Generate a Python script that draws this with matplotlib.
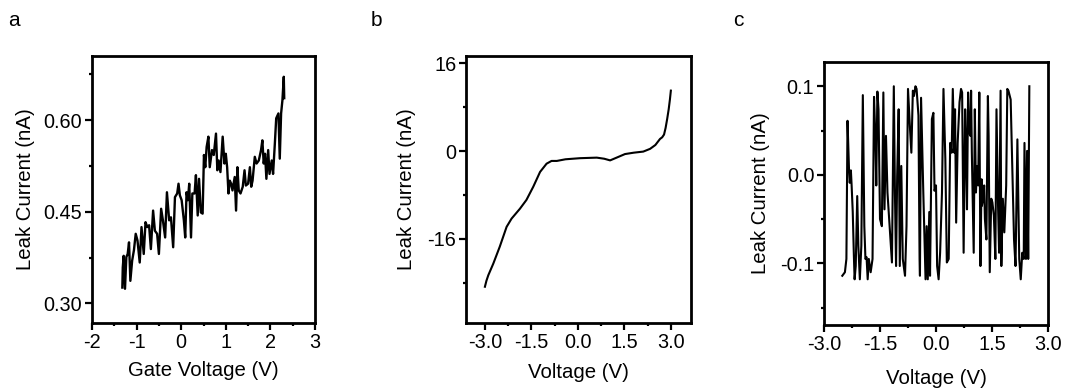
import numpy as np
import matplotlib
matplotlib.use("Agg")
import matplotlib.pyplot as plt
from matplotlib.ticker import MultipleLocator, FormatStrFormatter

plt.rcParams['font.family'] = ['Liberation Sans', 'DejaVu Sans']
plt.rcParams['axes.unicode_minus'] = False

# ---------------- Panel a: gate leak current ----------------
gate_v = [-1.32, -1.31, -1.29, -1.26, -1.23, -1.20, -1.17, -1.14, -1.10, -1.06,
          -1.02, -0.98, -0.93, -0.89, -0.84, -0.80, -0.76, -0.72, -0.68, -0.63,
          -0.59, -0.54, -0.50, -0.45, -0.41, -0.36, -0.32, -0.27, -0.23, -0.18,
          -0.14, -0.09, -0.06, -0.03, 0.01, 0.06, 0.09, 0.12, 0.15, 0.18,
          0.22, 0.25, 0.30, 0.33, 0.37, 0.40, 0.44, 0.48, 0.51, 0.54,
          0.57, 0.61, 0.64, 0.69, 0.73, 0.78, 0.81, 0.84, 0.88, 0.93,
          0.97, 1.00, 1.03, 1.06, 1.09, 1.12, 1.15, 1.20, 1.23, 1.26,
          1.29, 1.33, 1.38, 1.42, 1.45, 1.50, 1.54, 1.57, 1.60, 1.65,
          1.69, 1.74, 1.79, 1.82, 1.85, 1.88, 1.91, 1.95, 1.98, 2.03,
          2.06, 2.10, 2.13, 2.18, 2.21, 2.24, 2.27, 2.30, 2.31]
gate_i = [0.326, 0.359, 0.378, 0.324, 0.376, 0.381, 0.400, 0.337, 0.370, 0.387,
          0.414, 0.403, 0.367, 0.425, 0.381, 0.433, 0.425, 0.428, 0.389, 0.452,
          0.419, 0.414, 0.381, 0.455, 0.436, 0.408, 0.482, 0.436, 0.441, 0.392,
          0.474, 0.480, 0.496, 0.477, 0.469, 0.436, 0.408, 0.482, 0.469, 0.496,
          0.408, 0.480, 0.480, 0.510, 0.444, 0.504, 0.449, 0.447, 0.543, 0.523,
          0.556, 0.573, 0.523, 0.551, 0.543, 0.578, 0.518, 0.534, 0.515, 0.573,
          0.529, 0.545, 0.523, 0.480, 0.501, 0.496, 0.485, 0.507, 0.452, 0.523,
          0.485, 0.480, 0.491, 0.518, 0.493, 0.496, 0.523, 0.491, 0.501, 0.540,
          0.529, 0.534, 0.551, 0.567, 0.529, 0.545, 0.504, 0.551, 0.512, 0.534,
          0.512, 0.562, 0.603, 0.611, 0.537, 0.611, 0.633, 0.671, 0.636]

# ---------------- Panel b: I-V sweep ----------------
iv_v = [-3.00, -2.95, -2.89, -2.73, -2.52, -2.30, -2.14, -1.87, -1.66, -1.44,
        -1.22, -1.01, -0.85, -0.68, -0.40, 0.07, 0.61, 0.85, 1.04, 1.25,
        1.52, 1.80, 2.11, 2.33, 2.50, 2.65, 2.72, 2.78, 2.83, 2.88,
        2.93, 2.97, 3.00]
iv_i = [-24.7, -23.6, -22.6, -20.5, -17.4, -13.8, -12.3, -10.5, -8.9, -6.5,
        -3.8, -2.3, -1.8, -1.8, -1.5, -1.3, -1.2, -1.4, -1.7, -1.2,
        -0.55, -0.3, -0.1, 0.4, 1.1, 2.2, 2.5, 3.0, 4.2, 5.8,
        7.6, 9.4, 11.0]

# ---------------- Panel c: noise-level leak current ----------------
noise_v = [-2.51, -2.44, -2.40, -2.37, -2.33, -2.31, -2.28, -2.26, -2.23, -2.20,
           -2.18, -2.15, -2.11, -2.08, -2.04, -2.00, -1.96, -1.92, -1.89, -1.86,
           -1.83, -1.80, -1.75, -1.70, -1.66, -1.62, -1.60, -1.57, -1.54, -1.50,
           -1.45, -1.41, -1.38, -1.34, -1.30, -1.23, -1.18, -1.13, -1.10, -1.07,
           -1.04, -1.00, -0.97, -0.93, -0.89, -0.83, -0.79, -0.75, -0.70, -0.66,
           -0.62, -0.59, -0.55, -0.52, -0.47, -0.44, -0.43, -0.40, -0.34, -0.28,
           -0.25, -0.22, -0.18, -0.16, -0.11, -0.07, -0.04, -0.00, 0.03, 0.07,
           0.11, 0.16, 0.20, 0.25, 0.29, 0.34, 0.38, 0.42, 0.45, 0.49,
           0.51, 0.54, 0.58, 0.61, 0.63, 0.67, 0.70, 0.74, 0.78, 0.80,
           0.83, 0.86, 0.89, 0.92, 0.94, 0.96, 1.01, 1.04, 1.07, 1.10,
           1.13, 1.16, 1.19, 1.22, 1.23, 1.26, 1.29, 1.31, 1.35, 1.39,
           1.41, 1.44, 1.48, 1.51, 1.55, 1.59, 1.62, 1.66, 1.69, 1.73,
           1.75, 1.79, 1.83, 1.88, 1.91, 1.94, 2.00, 2.04, 2.09, 2.13,
           2.18, 2.23, 2.27, 2.31, 2.35, 2.37, 2.41, 2.44, 2.47, 2.50]
noise_i = [-0.114, -0.110, -0.095, 0.061, 0.006, -0.009, 0.005, -0.012, -0.042, -0.091,
           -0.118, -0.103, -0.024, -0.080, -0.118, -0.080, 0.090, -0.058, -0.095, -0.093,
           -0.118, -0.095, -0.110, -0.095, 0.088, 0.036, -0.012, 0.094, 0.074, -0.050,
           -0.058, 0.093, -0.039, 0.044, -0.020, -0.065, -0.099, 0.100, -0.020, -0.103,
           -0.001, 0.074, -0.103, 0.010, -0.095, -0.114, -0.058, 0.097, 0.055, 0.025,
           0.095, 0.089, 0.100, 0.097, 0.067, -0.095, -0.114, 0.087, -0.020, -0.118,
           -0.058, -0.118, -0.042, -0.114, 0.063, 0.070, -0.018, -0.012, -0.103, -0.118,
           -0.088, -0.020, 0.097, 0.018, -0.099, -0.095, 0.036, 0.025, 0.097, 0.025,
           0.074, -0.054, 0.036, 0.063, 0.082, 0.097, 0.093, -0.088, 0.074, 0.044,
           -0.039, 0.093, 0.048, 0.044, 0.095, 0.025, -0.088, 0.074, -0.020, 0.010,
           -0.012, 0.093, -0.103, -0.005, -0.035, -0.027, -0.012, -0.050, -0.073, 0.089,
           0.044, -0.110, -0.027, -0.031, -0.046, -0.095, 0.074, -0.031, -0.088, 0.095,
           -0.103, -0.027, -0.065, -0.012, 0.097, 0.095, 0.085, 0.014, -0.073, -0.103,
           0.040, -0.095, -0.118, -0.088, -0.095, 0.036, -0.095, 0.027, -0.095, 0.100]

W, H = 1066, 390
fig = plt.figure(figsize=(W / 100, H / 100), dpi=100)

TICK_FS = 14.3
LABEL_FS = 14.7


def px_axes(l, t, r, b):
    return fig.add_axes([l / W, 1 - b / H, (r - l) / W, (b - t) / H])


def style(ax):
    for s in ax.spines.values():
        s.set_linewidth(2.0)
    ax.tick_params(which='major', direction='out', length=5, width=1.6,
                   labelsize=TICK_FS, pad=2, top=False, right=False)
    ax.tick_params(which='minor', direction='out', length=2.2, width=1.6,
                   top=False, right=False)


def place_labels(ax, box, xlab, ylab, xlab_y, ylab_x):
    l, t, r, b = box
    ax.set_xlabel(xlab, fontsize=LABEL_FS)
    ax.set_ylabel(ylab, fontsize=LABEL_FS)
    ax.xaxis.label.set_va('center')
    ax.yaxis.label.set_va('center')
    ax.xaxis.set_label_coords(0.5, (b - xlab_y) / (b - t))
    ax.yaxis.set_label_coords((ylab_x - l) / (r - l), 0.5)


# Panel a
box_a = (92, 56, 315, 323)
ax1 = px_axes(*box_a)
ax1.plot(gate_v, gate_i, color='black', lw=1.7)
ax1.set_xlim(-2, 3)
ax1.set_ylim(0.268, 0.705)
ax1.xaxis.set_major_locator(MultipleLocator(1))
ax1.xaxis.set_minor_locator(MultipleLocator(0.5))
ax1.yaxis.set_major_locator(MultipleLocator(0.15))
ax1.yaxis.set_minor_locator(MultipleLocator(0.075))
ax1.yaxis.set_major_formatter(FormatStrFormatter('%.2f'))
ax1.xaxis.set_major_formatter(FormatStrFormatter('%d'))
style(ax1)
place_labels(ax1, box_a, 'Gate Voltage (V)', 'Leak Current (nA)', 370, 26)

# Panel b
box_b = (466, 56, 691, 323)
ax2 = px_axes(*box_b)
ax2.plot(iv_v, iv_i, color='black', lw=1.5, solid_joinstyle='round')
ax2.set_xlim(-3.61, 3.65)
ax2.set_ylim(-31.3, 17.3)
ax2.xaxis.set_major_locator(MultipleLocator(1.5))
ax2.xaxis.set_minor_locator(MultipleLocator(0.75))
ax2.yaxis.set_major_locator(MultipleLocator(16))
ax2.yaxis.set_minor_locator(MultipleLocator(8))
ax2.xaxis.set_major_formatter(FormatStrFormatter('%.1f'))
ax2.yaxis.set_major_formatter(FormatStrFormatter('%d'))
style(ax2)
place_labels(ax2, box_b, 'Voltage (V)', 'Leak Current (nA)', 373, 406)

# Panel c
box_c = (824, 62, 1048, 325)
ax3 = px_axes(*box_c)
ax3.plot(noise_v, noise_i, color='black', lw=1.5, solid_joinstyle='round')
ax3.set_xlim(-3.0, 3.0)
ax3.set_ylim(-0.1696, 0.1274)
ax3.xaxis.set_major_locator(MultipleLocator(1.5))
ax3.xaxis.set_minor_locator(MultipleLocator(0.75))
ax3.yaxis.set_major_locator(MultipleLocator(0.1))
ax3.yaxis.set_minor_locator(MultipleLocator(0.05))
ax3.xaxis.set_major_formatter(FormatStrFormatter('%.1f'))
ax3.yaxis.set_major_formatter(FormatStrFormatter('%.1f'))
style(ax3)
place_labels(ax3, box_c, 'Voltage (V)', 'Leak Current (nA)', 378, 760)

# Panel letters
for lab, x in (('a', 14), ('b', 376), ('c', 738)):
    fig.text(x / W, 1 - 20 / H, lab, fontsize=15, ha='center', va='center')

fig.savefig('out.png', dpi=100, facecolor='white')
